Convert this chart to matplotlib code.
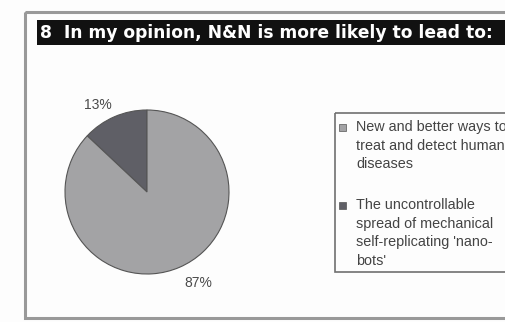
import matplotlib
matplotlib.use("Agg")
import matplotlib.pyplot as plt
from matplotlib.patches import Rectangle

# Survey question 8 responses
title = "8  In my opinion, N&N is more likely to lead to:"
categories = [
    "The uncontrollable spread of mechanical self-replicating 'nano-bots'",
    "New and better ways to treat and detect human diseases",
]
values = [13, 87]
colors = ["#5f5f66", "#a3a3a5"]
legend_lines = [
    ["New and better ways to", "treat and detect human", "diseases"],
    ["The uncontrollable", "spread of mechanical", "self-replicating 'nano-", "bots'"],
]
legend_colors = [colors[1], colors[0]]

W, H = 506, 322
fig = plt.figure(figsize=(W / 100, H / 100), dpi=100)
fig.patch.set_facecolor("#fdfdfd")

# Pixel-space canvas for the frame, header and legend
bg = fig.add_axes([0, 0, 1, 1])
bg.set_xlim(0, W)
bg.set_ylim(H, 0)
bg.axis("off")

# Outer frame (runs off the right edge)
bg.add_patch(Rectangle((25, 11.5), 520, 306.5, fill=False, ec="#999999", lw=2.2))

# Black header bar with white bold title
bg.add_patch(Rectangle((37, 20), 480, 25, fc="#111111", ec="none"))
t = bg.text(40, 33, title, color="white", fontsize=12, fontweight="bold",
            family="DejaVu Sans", va="center", ha="left")
fig.canvas.draw()
w = t.get_window_extent().width
t.set_fontsize(12 * 452 / w)

# Pie chart
cx, cy, r = 147, 192, 82
pax = fig.add_axes([(cx - r) / W, (H - cy - r) / H, 2 * r / W, 2 * r / H])
wedges, _ = pax.pie(values, colors=colors, startangle=90, counterclock=True,
                    wedgeprops=dict(edgecolor="#555555", linewidth=0.8))
pax.set_xlim(-1, 1)
pax.set_ylim(-1, 1)
pax.axis("off")

# Percentage labels
label_pos = [(98, 105), (198, 283)]
for v, (lx, ly) in zip(values, label_pos):
    bg.text(lx, ly, f"{v}%", fontsize=10, color="#4a4a4a",
            family="Liberation Sans", ha="center", va="center", zorder=5)

# Legend box
bg.add_patch(Rectangle((335, 113), 200, 159, fill=False, ec="#707070", lw=1.2))
starts = [127, 205]
step = 18.7
for lines, col, y0 in zip(legend_lines, legend_colors, starts):
    bg.add_patch(Rectangle((339, y0 - 3.5), 7, 7, fc=col, ec="#555555", lw=0.5))
    for i, line in enumerate(lines):
        bg.text(356, y0 + i * step, line, fontsize=10.4, color="#444444",
                family="Liberation Sans", ha="left", va="center")

fig.savefig("out.png", dpi=100)
